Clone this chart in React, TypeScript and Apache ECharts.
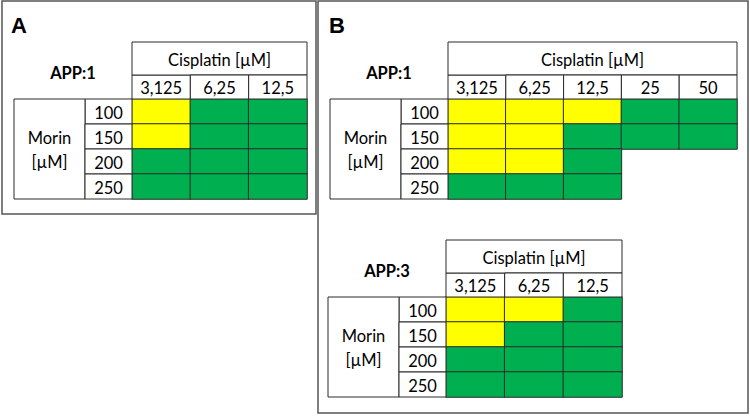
import React, { useEffect, useRef } from 'react';
import * as echarts from 'echarts';

// ---- data ----
const morinLevels = ['100', '150', '200', '250'];
const cisplatinA = ['3,125', '6,25', '12,5'];
const cisplatinB1 = ['3,125', '6,25', '12,5', '25', '50'];
const cisplatinB3 = ['3,125', '6,25', '12,5'];
// 0 = yellow, 1 = green, null = not tested
const panelA_APP1 = [
  [0, 1, 1],
  [0, 1, 1],
  [1, 1, 1],
  [1, 1, 1],
];
const panelB_APP1 = [
  [0, 0, 0, 1, 1],
  [0, 0, 1, 1, 1],
  [0, 0, 1, null, null],
  [1, 1, 1, null, null],
];
const panelB_APP3 = [
  [0, 0, 1],
  [0, 1, 1],
  [1, 1, 1],
  [1, 1, 1],
];
const tableLabels = ['APP:1', 'APP:1', 'APP:3'];
const panelLetters = ['A', 'B'];
const headerTitle = 'Cisplatin [µM]';
const rowTitle = 'Morin\n[µM]';

// ---- styles ----
const FONT = 'Lato, "Open Sans", sans-serif';
const FS = 16.5;
const LINE = '#2a2a2a';
const YELLOW = '#FFFF00';
const GREEN = '#00B050';
const SUB_H = 24;
const HEAD_H = 33;
const VAL_W = 47;
const MORIN_W = 71;

const tables = [
  { cols: cisplatinA, matrix: panelA_APP1, label: tableLabels[0], grid: { left: 132, top: 99, width: 175, height: 100 } },
  { cols: cisplatinB1, matrix: panelB_APP1, label: tableLabels[1], grid: { left: 448, top: 99, width: 289, height: 100 } },
  { cols: cisplatinB3, matrix: panelB_APP3, label: tableLabels[2], grid: { left: 446, top: 297, width: 176, height: 100 } },
];

function buildOption() {
  const grid: any[] = [];
  const xAxis: any[] = [];
  const yAxis: any[] = [];
  const series: any[] = [];
  const heatIdx: number[] = [];

  tables.forEach((t, k) => {
    grid.push({ ...t.grid, containLabel: false });
    xAxis.push({ gridIndex: k, type: 'category', data: t.cols, show: false });
    yAxis.push({ gridIndex: k, type: 'category', data: morinLevels, inverse: true, show: false });

    const cells: any[] = [];
    t.matrix.forEach((row, j) =>
      row.forEach((v, i) => {
        if (v !== null) cells.push([i, j, v]);
      })
    );
    heatIdx.push(series.length);
    series.push({
      type: 'heatmap',
      xAxisIndex: k,
      yAxisIndex: k,
      data: cells,
      silent: true,
      itemStyle: { borderColor: LINE, borderWidth: 1 },
      emphasis: { disabled: true },
    });

    const cols = t.cols;
    // column headers
    series.push({
      type: 'custom',
      xAxisIndex: k,
      yAxisIndex: k,
      silent: true,
      clip: false,
      data: cols.map((_, i) => [i, 0]),
      renderItem: (params: any, api: any) => {
        const i = api.value(0);
        const c = api.coord([i, 0]);
        const s = api.size([1, 1]);
        const left = c[0] - s[0] / 2;
        const top = c[1] - s[1] / 2;
        const children: any[] = [
          { type: 'rect', shape: { x: left, y: top - SUB_H, width: s[0], height: SUB_H }, style: { fill: '#fff', stroke: LINE, lineWidth: 1 } },
          { type: 'text', x: c[0], y: top - SUB_H / 2 + 1, style: { text: cols[i], fontSize: FS, fontFamily: FONT, fill: '#000', align: 'center', verticalAlign: 'middle' } },
        ];
        if (i === 0) {
          const w = s[0] * cols.length;
          children.push(
            { type: 'rect', shape: { x: left, y: top - SUB_H - HEAD_H, width: w, height: HEAD_H }, style: { fill: '#fff', stroke: LINE, lineWidth: 1 } },
            { type: 'text', x: left + w / 2, y: top - SUB_H - HEAD_H / 2 + 1, style: { text: headerTitle, fontSize: FS, fontFamily: FONT, fill: '#000', align: 'center', verticalAlign: 'middle' } }
          );
        }
        return { type: 'group', children };
      },
    });

    // row headers
    series.push({
      type: 'custom',
      xAxisIndex: k,
      yAxisIndex: k,
      silent: true,
      clip: false,
      data: morinLevels.map((_, j) => [0, j]),
      renderItem: (params: any, api: any) => {
        const j = api.value(1);
        const c = api.coord([0, j]);
        const s = api.size([1, 1]);
        const left = c[0] - s[0] / 2;
        const top = c[1] - s[1] / 2;
        const children: any[] = [
          { type: 'rect', shape: { x: left - VAL_W, y: top, width: VAL_W, height: s[1] }, style: { fill: '#fff', stroke: LINE, lineWidth: 1 } },
          { type: 'text', x: left - VAL_W / 2, y: c[1] + 1, style: { text: morinLevels[j], fontSize: FS, fontFamily: FONT, fill: '#000', align: 'center', verticalAlign: 'middle' } },
        ];
        if (j === 0) {
          const h = s[1] * morinLevels.length;
          const x0 = left - VAL_W - MORIN_W;
          children.push(
            { type: 'rect', shape: { x: x0, y: top, width: MORIN_W, height: h }, style: { fill: '#fff', stroke: LINE, lineWidth: 1 } },
            { type: 'text', x: x0 + MORIN_W / 2, y: top + h / 2 + 1, style: { text: rowTitle, fontSize: FS, lineHeight: 24, fontFamily: FONT, fill: '#000', align: 'center', verticalAlign: 'middle' } },
            { type: 'text', x: x0 + (MORIN_W + VAL_W) / 2, y: top - (SUB_H + HEAD_H) / 2 + 2, style: { text: t.label, fontSize: 16.5, fontWeight: 'bold', fontFamily: FONT, fill: '#000', align: 'center', verticalAlign: 'middle' } }
          );
        }
        return { type: 'group', children };
      },
    });
  });

  return {
    animation: false,
    backgroundColor: '#fff',
    grid,
    xAxis,
    yAxis,
    visualMap: {
      type: 'piecewise',
      show: false,
      dimension: 2,
      seriesIndex: heatIdx,
      pieces: [
        { value: 0, color: YELLOW },
        { value: 1, color: GREEN },
      ],
    },
    graphic: [
      { type: 'rect', shape: { x: 2, y: 1, width: 314, height: 213 }, style: { fill: 'none', stroke: '#555', lineWidth: 1.5 }, silent: true },
      { type: 'rect', shape: { x: 318, y: 1, width: 430, height: 412 }, style: { fill: 'none', stroke: '#555', lineWidth: 1.5 }, silent: true },
      { type: 'text', x: 11, y: 14, style: { text: panelLetters[0], fontSize: 22, fontWeight: 'bold', fontFamily: '"Liberation Sans", Arial, sans-serif', fill: '#000' } },
      { type: 'text', x: 329, y: 14, style: { text: panelLetters[1], fontSize: 22, fontWeight: 'bold', fontFamily: '"Liberation Sans", Arial, sans-serif', fill: '#000' } },
    ],
    series,
  };
}

export default function App() {
  const ref = useRef<HTMLDivElement>(null);
  useEffect(() => {
    if (!ref.current) return;
    const chart = echarts.init(ref.current, null, { renderer: 'svg' });
    chart.setOption(buildOption() as any);
    return () => chart.dispose();
  }, []);
  return <div ref={ref} style={{ position: 'fixed', left: 0, top: 0, width: 750, height: 416, background: '#fff' }} />;
}
